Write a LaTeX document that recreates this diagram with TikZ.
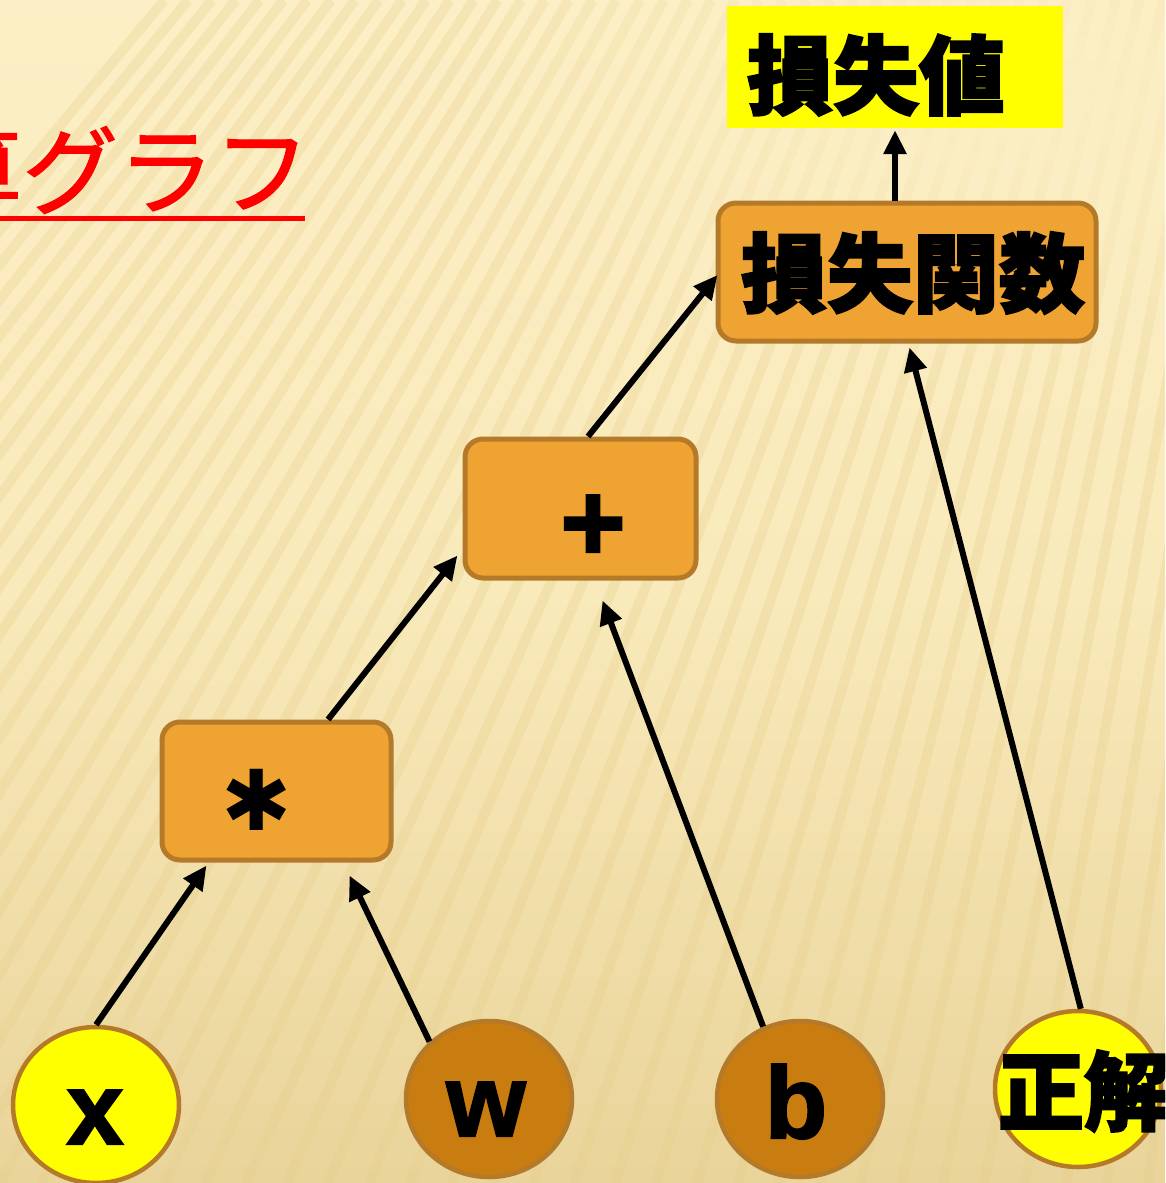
\documentclass[tikz,border=0pt]{standalone}
\usepackage{fontspec}
\usetikzlibrary{arrows.meta,shapes.geometric,calc,fadings}
\newfontfamily\cjk{Noto Sans CJK JP}[BoldFeatures={FakeBold=2.5}]
\newfontfamily\cjkred{Noto Sans CJK JP}[FakeBold=1.3]
\newfontfamily\lat{Liberation Sans}[BoldFeatures={FakeBold=2}]
\newfontfamily\dvs{DejaVu Sans}
\definecolor{bgtop}{HTML}{FCEFC5}
\definecolor{bgmid}{HTML}{F9EABB}
\definecolor{bgbot}{HTML}{E9D49A}
\definecolor{stripe}{HTML}{E6CC88}
\definecolor{boxfill}{HTML}{EEA332}
\definecolor{boxline}{HTML}{B47A2A}
\definecolor{darkfill}{HTML}{C97C10}
\definecolor{yel}{HTML}{FFFF00}
\tikzfading[name=softspot, inner color=transparent!0, outer color=transparent!100]
\tikzset{
  opbox/.style={rectangle, rounded corners=18pt, fill=boxfill, draw=boxline, line width=5pt, inner sep=0pt},
  valbox/.style={rectangle, fill=yel, inner sep=0pt},
  leaf/.style={ellipse, draw=boxline, line width=4.5pt, inner sep=0pt, minimum width=166pt, minimum height=156pt},
  cjktext/.style={font=\cjk\bfseries\fontsize{86pt}{90pt}\selectfont, text=black},
  lettxt/.style={font=\lat\bfseries\fontsize{102pt}{104pt}\selectfont, text=black, text height=74pt, text depth=0pt},
  symtxt/.style={font=\lat\bfseries\fontsize{112pt}{114pt}\selectfont, text=black, inner sep=0pt},
  asttxt/.style={font=\dvs\fontsize{84pt}{86pt}\selectfont, text=black, inner sep=0pt},
  arr/.style={line width=6pt, black, -{Triangle[length=24pt,width=22pt]}},
  stripeline/.style={line width=10pt, stripe, opacity=0.28}
}
\begin{document}
\begin{tikzpicture}[x=1pt,y=-1pt]
\useasboundingbox (0,0) rectangle (1165,1183);
\begin{scope}
\clip (0,0) rectangle (1165,1183);
\shade[top color=bgtop, bottom color=bgbot, middle color=bgmid] (0,0) rectangle (1165,1183);
\foreach \i in {-20,...,32} {
  \pgfmathsetmacro\xb{\i*41}
  \pgfmathsetmacro\xt{\xb+640-0.42*\xb}
  \draw[stripeline] (\xb,1183) -- (\xt,0);
}
\fill[bgtop, path fading=softspot] (1000,80) ellipse (560pt and 330pt);
% title (partly outside the left edge)
\node[font=\cjkred\fontsize{96pt}{98pt}\selectfont, text=red, anchor=base west, inner sep=0pt] (title) at (-74,207) {算グラフ};
\draw[red, line width=5pt] ($(title.base west)+(74,11)$) -- ($(title.base west)+(379,11)$);

% result and operation boxes
\node[valbox, minimum width=336pt, minimum height=122pt] (lossval) at (895,67) {};
\node[cjktext, anchor=center] (lossvaltxt) at (876,75) {損失値};
\node[opbox, minimum width=378pt, minimum height=138pt] (lossfn) at (907,272) {};
\node[cjktext] (lossfntxt) at (913,273) {損失関数};
\node[opbox, minimum width=231pt, minimum height=139pt] (add) at (580.5,508.5) {};
\node[symtxt] (addtxt) at (593,528) {+};
\node[opbox, minimum width=229pt, minimum height=138pt] (mul) at (276.5,791) {};
\node[asttxt] (multxt) at (257,800) {✱};

% leaves
\node[leaf, fill=yel] (x) at (96,1105) {};
\node[lettxt] (xtxt) at (95,1107) {x};
\node[leaf, fill=darkfill] (w) at (489,1099) {};
\node[lettxt] (wtxt) at (486,1099) {w};
\node[leaf, fill=darkfill] (b) at (800,1099) {};
\node[lettxt] (btxt) at (796,1101) {b};
\node[leaf, fill=yel] (ans) at (1078,1089) {};
\node[cjktext] (anstxt) at (1084,1091) {正解};

% connectors
\draw[arr] (x.north) -- ($(mul.south west)+(47,3)$);
\draw[arr] (w.136) -- ($(mul.south west)+(190,13)$);
\draw[arr] ($(mul.north)+(51.5,0)$) -- ($(add.south west)+(-5,-25)$);
\draw[arr] (b.117) -- ($(add.south west)+(140,20)$);
\draw[arr] ($(add.north)+(7.5,0)$) -- ($(lossfn.west)+(2,3)$);
\draw[arr] (ans.88) -- ($(lossfn.south west)+(194,4)$);
\draw[arr] ($(lossfn.north)+(-12,0)$) -- ($(lossval.south)+(0,2)$);
\end{scope}
\end{tikzpicture}
\end{document}
